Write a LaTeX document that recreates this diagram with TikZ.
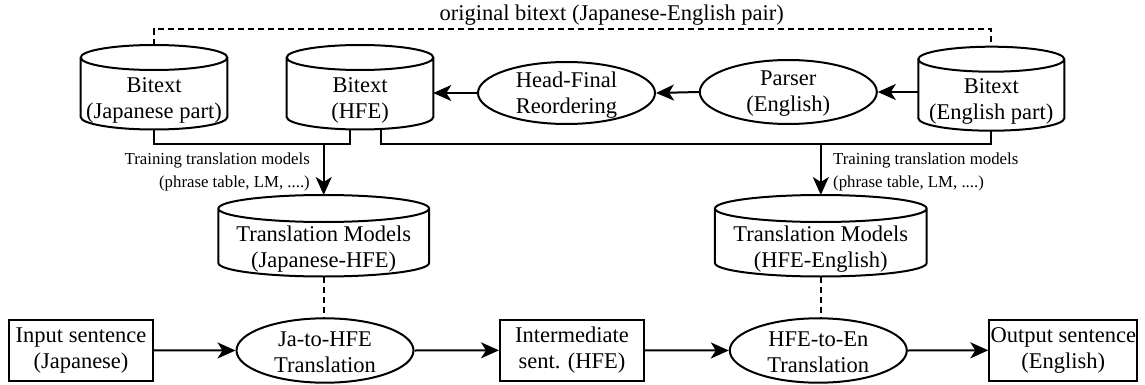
\documentclass[tikz,border=0pt]{standalone}
\usepackage{fontspec}
\setmainfont{Liberation Serif}
\usetikzlibrary{calc,arrows.meta,shapes.geometric}
\newcommand\bigf{\fontsize{22.5}{26}\selectfont}
\newcommand\smallf{\fontsize{16.8}{23}\selectfont}
\newcommand\drawcyl[2]{%
  \draw[ln] let \p1=(#1.north west), \p2=(#1.south east) in
    (\x1,\y1-#2) -- (\x1,\y2+#2)
    arc[start angle=180, end angle=360, x radius={(\x2-\x1)/2}, y radius=#2]
    -- (\x2,\y1-#2)
    ({(\x1+\x2)/2},\y1-#2) ellipse[x radius={(\x2-\x1)/2}, y radius=#2];
}
\begin{document}
\begin{tikzpicture}[x=1pt,y=-1pt,
  ln/.style={line width=2pt},
  arr/.style={ln,-{Stealth[length=18pt,width=16pt,inset=5pt]}},
  dsh/.style={line width=1.8pt, dash pattern=on 6pt off 4pt},
  cylbox/.style={rectangle, inner sep=0pt, outer sep=0pt},
  ell/.style={draw, ln, ellipse, inner sep=0pt, minimum width=177pt, minimum height=63pt},
  box/.style={draw, ln, rectangle, inner sep=0pt, minimum height=60.7pt, align=center, font=\bigf},
  txt/.style={align=center, inner sep=0pt, font=\bigf},
  small/.style={inner sep=0pt, font=\smallf},
]
\useasboundingbox (0,0) rectangle (1145,385);

% top title
\node[txt, anchor=base] (title) at (611.7,21) {original bitext (Japanese-English pair)};

% cylinders (bitext)
\node[cylbox, minimum width=146.6pt, minimum height=84.5pt] (c1) at (154,87.25) {};
\node[cylbox, minimum width=146.6pt, minimum height=84.5pt] (c2) at (360,87.25) {};
\node[cylbox, minimum width=146pt, minimum height=84pt] (c3) at (991.3,88.7) {};
\drawcyl{c1}{12.5pt}
\drawcyl{c2}{12.5pt}
\drawcyl{c3}{12.5pt}
\node[txt] (c1t) at (154,100) {Bitext\\(Japanese part)};
\node[txt] (c2t) at (360,100) {Bitext\\(HFE)};
\node[txt] (c3t) at (991.3,101) {Bitext\\(English part)};

% ellipses top row
\node[ell, minimum height=62pt] (hf) at (566.5,93) {};
\node[ell, minimum height=64pt] (par) at (788.3,92) {};
\node[txt] (hft) at (566.5,95) {Head-Final\\Reordering};
\node[txt] (part) at (788.3,94) {Parser\\(English)};

% translation model cylinders
\node[cylbox, minimum width=210.7pt, minimum height=81.5pt] (tm1) at (323.7,235.75) {};
\node[cylbox, minimum width=211.7pt, minimum height=81.5pt] (tm2) at (820.8,235.75) {};
\drawcyl{tm1}{13.5pt}
\drawcyl{tm2}{13.5pt}
\node[txt] (tm1t) at (323.7,249.5) {Translation Models\\(Japanese-HFE)};
\node[txt] (tm2t) at (820.8,249.5) {Translation Models\\(HFE-English)};

% bottom row
\node[box, minimum width=143.4pt] (in) at (81,350.3) {Input sentence\\(Japanese)};
\node[ell, minimum height=64.4pt] (ja) at (325,350.5) {};
\node[txt] (jat) at (325,352) {Ja-to-HFE\\Translation};
\node[box, minimum width=144pt] (im) at (572,350.3) {Intermediate\\sent. (HFE)};
\node[ell, minimum height=64.4pt] (he) at (818.3,350.5) {};
\node[txt] (het) at (818.3,352) {HFE-to-En\\Translation};
\node[box, minimum width=148pt] (out) at (1063.3,350.3) {Output sentence\\(English)};

% labels
\node[small, anchor=east, align=right] (lab1) at (310,171.5) {Training translation models\\(phrase table, LM, ....)};
\node[small, anchor=west, align=left] (lab2) at (833,171.5) {Training translation models\\(phrase table, LM, ....)};

% dashed top connector
\coordinate (dl) at (0,29.3);
\draw[dsh] (c1.north) -- (c1.north |- dl) -- (c3.north |- dl) -- (c3.north);

% bus lines
\coordinate (bus1) at (323.7,143.5);
\coordinate (bus2) at (820.8,144);
\draw[ln] (c1.south) |- (bus1) -| ([xshift=-10pt]c2.south);
\draw[ln] ([xshift=21pt]c2.south) |- (bus2) -| (c3.south);
\draw[arr] (bus1) -- (tm1.north);
\draw[arr] (bus2) -- (tm2.north);

% top row arrows
\draw[arr] (c3.west |- par.east) -- (par.east);
\draw[arr] (par.west) -- (hf.east);
\draw[arr] (hf.west) -- (hf.west -| c2.east);

% model links
\draw[dsh] (tm1.south) -- (tm1.south |- ja.north);
\draw[dsh] (tm2.south) -- (tm2.south |- he.north);

% bottom arrows
\draw[arr] (in.east) -- (ja.west);
\draw[arr] (ja.east) -- (im.west);
\draw[arr] (im.east) -- (he.west);
\draw[arr] (he.east) -- (out.west);
\end{tikzpicture}
\end{document}
